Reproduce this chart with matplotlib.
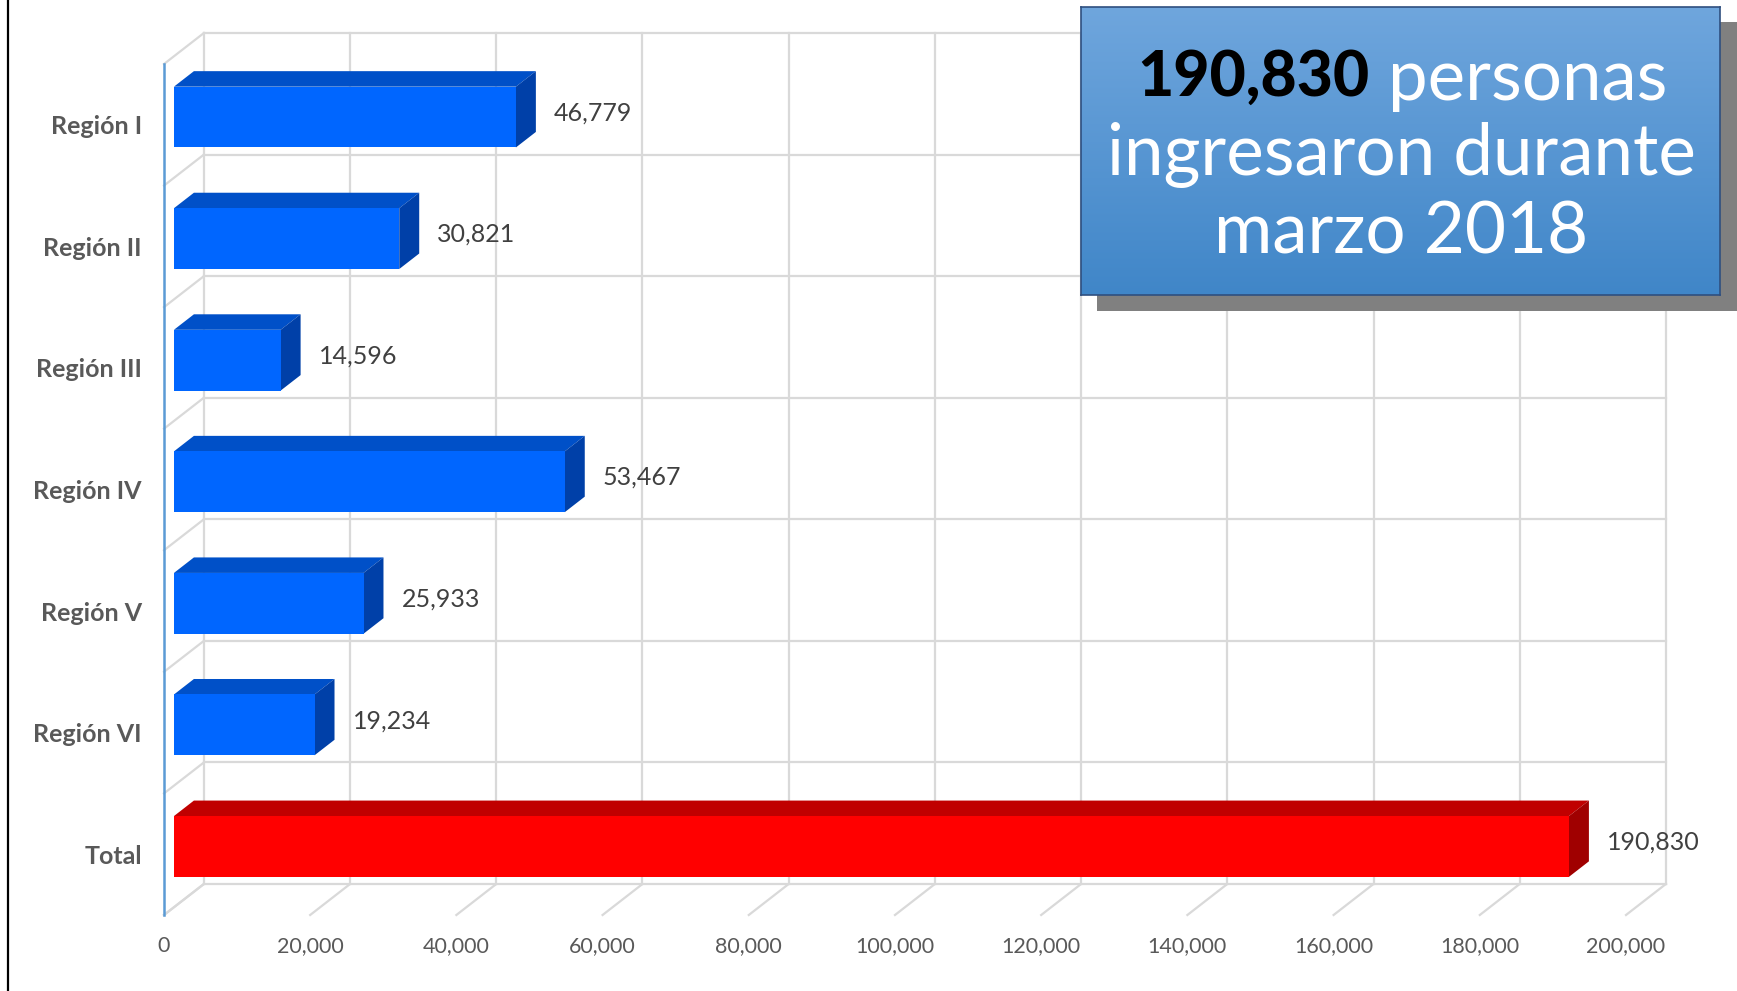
import numpy as np
import matplotlib

matplotlib.use("Agg")
import matplotlib.pyplot as plt
from matplotlib.patches import Polygon, Rectangle
from matplotlib.lines import Line2D

# --------------------------------------------------------------------------- #
# Datos
# --------------------------------------------------------------------------- #
categorias = ["Región I", "Región II", "Región III", "Región IV",
              "Región V", "Región VI", "Total"]
valores = [46779, 30821, 14596, 53467, 25933, 19234, 190830]
ticks_x = [0, 20000, 40000, 60000, 80000, 100000,
           120000, 140000, 160000, 180000, 200000]
titulo_num = "190,830"
titulo_resto = ["personas", "ingresaron durante", "marzo 2018"]

# Profundidad del efecto 3D (en unidades de datos)
DX = 5460.0
DY = 0.255
F, B = 0.25, 0.75  # cara frontal / trasera de las barras

AZUL = ("#0066FF", "#0050C8", "#0040A8")
ROJO = ("#FF0000", "#C00000", "#A00000")
GRID = "#D9D9D9"

plt.rcParams["font.family"] = ["Lato", "DejaVu Sans"]

fig = plt.figure(figsize=(17.37, 9.91), dpi=100)
ax = fig.add_axes([0.0944, 0.0767, 0.8417, 0.8587])
n = len(categorias)
xmax = ticks_x[-1]
ax.set_xlim(0, xmax)
ax.set_ylim(n, 0)

# --- paredes: pared del fondo, piso y pared izquierda ---
for t in ticks_x:
    ax.plot([t + DX, t + DX], [0 - DY, n - DY], color=GRID, lw=1.6,
            clip_on=False, zorder=1)
    ax.plot([t, t + DX], [n, n - DY], color=GRID, lw=1.6, clip_on=False, zorder=1)
for b in range(n + 1):
    ax.plot([DX, xmax + DX], [b - DY, b - DY], color=GRID, lw=1.6,
            clip_on=False, zorder=1)
    ax.plot([0, DX], [b, b - DY], color=GRID, lw=1.6, clip_on=False, zorder=1)
ax.plot([0, 0], [0, n], color="#5B9BD5", lw=1.8, clip_on=False, zorder=2)

# --- barras 3D ---
for i, v in enumerate(valores):
    frente, arriba, lado = ROJO if categorias[i] == "Total" else AZUL
    yt, yb = i + 0.25, i + 0.75
    ax.barh(i + 0.5 - F * DY, v, height=0.5, left=F * DX, color=frente,
            zorder=4, clip_on=False)
    ax.add_patch(Polygon([(F * DX, yt - F * DY), (v + F * DX, yt - F * DY),
                          (v + B * DX, yt - B * DY), (B * DX, yt - B * DY)],
                         closed=True, facecolor=arriba, edgecolor="none",
                         zorder=3, clip_on=False))
    ax.add_patch(Polygon([(v + F * DX, yt - F * DY), (v + B * DX, yt - B * DY),
                          (v + B * DX, yb - B * DY), (v + F * DX, yb - F * DY)],
                         closed=True, facecolor=lado, edgecolor="none",
                         zorder=3, clip_on=False))
    ax.annotate(f"{v:,}", xy=(v + B * DX, i + 0.5 - 0.5 * DY),
                xytext=(13, -2.5), textcoords="offset points",
                ha="left", va="center", fontsize=18, fontweight="normal",
                color="#404040", zorder=5)

# --- ejes ---
ax.set_xticks(ticks_x)
ax.set_xticklabels([f"{t:,}" for t in ticks_x], fontsize=15.5, color="#595959")
ax.set_yticks(np.arange(n) + 0.5)
ax.set_yticklabels(categorias, fontsize=18, fontweight="bold", color="#595959")
ax.tick_params(axis="x", length=0, pad=15)
ax.tick_params(axis="y", length=0, pad=16)
for s in ax.spines.values():
    s.set_visible(False)

# --- cuadro de texto con sombra ---
W, H = 1737.0, 991.0
fig.patches.append(Rectangle((1097 / W, 1 - 311 / H), 650 / W, 289 / H,
                             transform=fig.transFigure, facecolor="#808080",
                             edgecolor="none", zorder=1))
box = fig.add_axes([1081 / W, 1 - 295 / H, 639 / W, 288 / H], zorder=3)
grad = np.linspace(0, 1, 256).reshape(-1, 1)
top = np.array([111, 166, 221]) / 255
bot = np.array([64, 134, 200]) / 255
img = top[None, None, :] * (1 - grad[..., None]) + bot[None, None, :] * grad[..., None]
box.imshow(img, aspect="auto", extent=(0, 1, 0, 1))
box.set_xlim(0, 1)
box.set_ylim(0, 1)
box.set_xticks([])
box.set_yticks([])
for s in box.spines.values():
    s.set_color("#2F4F7F")
    s.set_linewidth(1.2)

box.text(1369 / W, 1 - 78 / H, titulo_num, transform=fig.transFigure,
         ha="right", va="center", fontsize=45, fontweight="black",
         color="black", zorder=6)
box.text(1388 / W, 1 - 80 / H, titulo_resto[0], transform=fig.transFigure,
         ha="left", va="center", fontsize=51, fontweight="normal",
         color="white", zorder=6)
box.text(1401 / W, 1 - 155 / H, titulo_resto[1], transform=fig.transFigure,
         ha="center", va="center", fontsize=51, fontweight="normal",
         color="white", zorder=6)
box.text(1401 / W, 1 - 233 / H, titulo_resto[2], transform=fig.transFigure,
         ha="center", va="center", fontsize=51, fontweight="normal",
         color="white", zorder=6)

# borde izquierdo negro
fig.add_artist(Line2D([8 / W, 8 / W], [0, 1], transform=fig.transFigure,
                      color="black", lw=1.6))

fig.savefig("out.png", dpi=100)
